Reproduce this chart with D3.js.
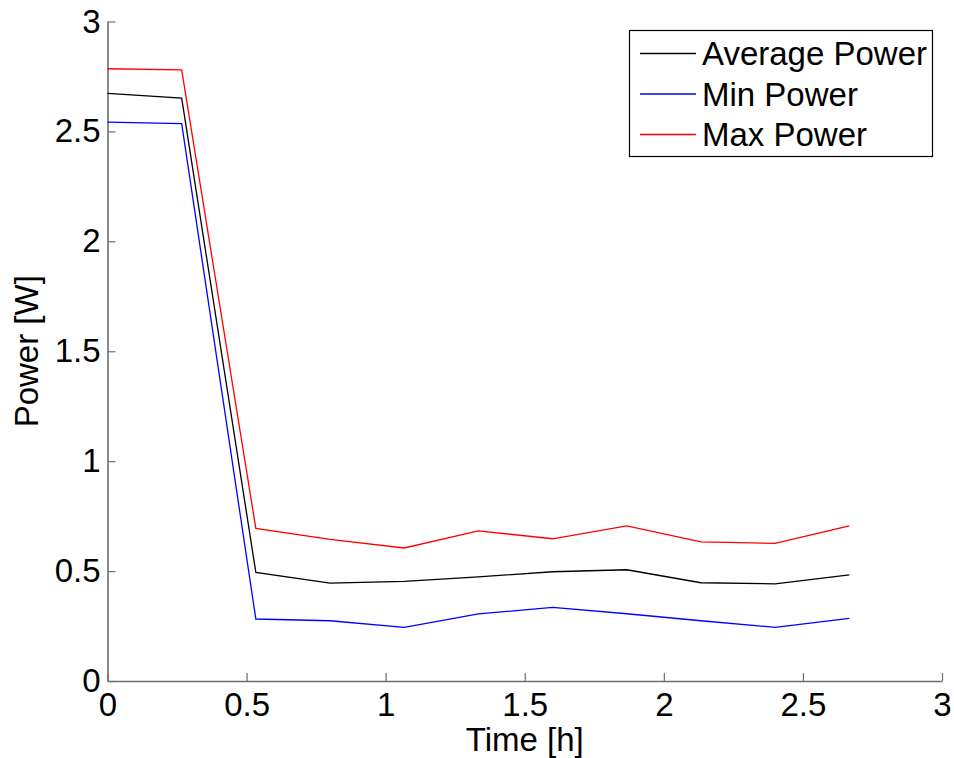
<!DOCTYPE html>
<html>
<head>
<meta charset="utf-8">
<script src="https://cdn.jsdelivr.net/npm/d3@7"></script>
<style>
  body { margin: 0; background: #fff; }
  text { font-family: "Liberation Sans", Arial, Helvetica, sans-serif; }
</style>
</head>
<body>
<div id="block"></div>
<script>
// time in hours (one sample every 16 min)
var times = [0, 0.2667, 0.5333, 0.8, 1.0667, 1.3333, 1.6, 1.8667, 2.1333, 2.4, 2.6667];

var avgPower = [2.673, 2.651, 0.494, 0.445, 0.453, 0.474, 0.497, 0.506, 0.447, 0.442, 0.483];
var minPower = [2.542, 2.535, 0.282, 0.274, 0.244, 0.305, 0.335, 0.306, 0.274, 0.244, 0.285];
var maxPower = [2.785, 2.780, 0.694, 0.644, 0.605, 0.683, 0.647, 0.706, 0.633, 0.626, 0.706];

var seriesNames = ["Average Power", "Min Power", "Max Power"];
var seriesColors = ["#000000", "#0000ff", "#ff0000"];

var xTicks = [0, 0.5, 1, 1.5, 2, 2.5, 3];
var yTicks = [0, 0.5, 1, 1.5, 2, 2.5, 3];

var w = 954,
  h = 758;

var svg = d3.select("#block")
          .append("svg")
          .attr("width", w)
          .attr("height", h);

var x = d3.scaleLinear()
        .domain([0, 3])
        .range([107.5, 942]);

var y = d3.scaleLinear()
        .domain([0, 3])
        .range([681, 21.5]);

var fmt = function(d) { return String(d); };

// axes, ticks pointing inward like matlab
var xAxis = svg.append("g")
  .attr("transform", "translate(0," + y(0) + ")")
  .call(d3.axisBottom(x).tickValues(xTicks).tickFormat(fmt)
        .tickSizeInner(-8).tickSizeOuter(0).tickPadding(12));

var yAxis = svg.append("g")
  .attr("transform", "translate(" + x(0) + ",0)")
  .call(d3.axisLeft(y).tickValues(yTicks).tickFormat(fmt)
        .tickSizeInner(-8).tickSizeOuter(0).tickPadding(7));

[xAxis, yAxis].forEach(function(a) {
  a.select(".domain").attr("stroke", "#6e6e6e").attr("stroke-width", 1.6);
  a.selectAll(".tick line").attr("stroke", "#6e6e6e").attr("stroke-width", 1.2);
  a.selectAll(".tick text")
   .attr("fill", "#000")
   .style("font-size", "33px")
   .style("font-family", "'Liberation Sans', Arial, sans-serif");
});

// lines
var data = [avgPower, minPower, maxPower];

var line = d3.line()
  .x(function(d, i) { return x(times[i]); })
  .y(function(d) { return y(d); });

svg.selectAll("path.series")
  .data(data)
  .enter()
  .append("path")
  .attr("class", "series")
  .attr("d", line)
  .attr("fill", "none")
  .attr("stroke", function(d, i) { return seriesColors[i]; })
  .attr("stroke-width", 1.3);

// axis labels
svg.append("text")
  .attr("x", (x(0) + x(3)) / 2)
  .attr("y", 751)
  .attr("text-anchor", "middle")
  .style("font-size", "33px")
  .text("Time [h]");

svg.append("text")
  .attr("transform", "translate(38," + (y(0) + y(3)) / 2 + ") rotate(-90)")
  .attr("text-anchor", "middle")
  .style("font-size", "33px")
  .text("Power [W]");

// legend
var legend = svg.append("g");

legend.append("rect")
  .attr("x", 629.5)
  .attr("y", 30.5)
  .attr("width", 303)
  .attr("height", 126)
  .attr("fill", "#fff")
  .attr("stroke", "#000")
  .attr("stroke-width", 1.2);

var rows = legend.selectAll("g.row")
  .data(seriesNames)
  .enter()
  .append("g")
  .attr("class", "row")
  .attr("transform", function(d, i) { return "translate(0," + (53.5 + i * 40.5) + ")"; });

rows.append("line")
  .attr("x1", 640)
  .attr("x2", 696)
  .attr("stroke", function(d, i) { return seriesColors[i]; })
  .attr("stroke-width", 1.3);

rows.append("text")
  .attr("x", 702)
  .attr("dy", "0.35em")
  .style("font-size", "33px")
  .text(function(d) { return d; });
</script>
</body>
</html>
